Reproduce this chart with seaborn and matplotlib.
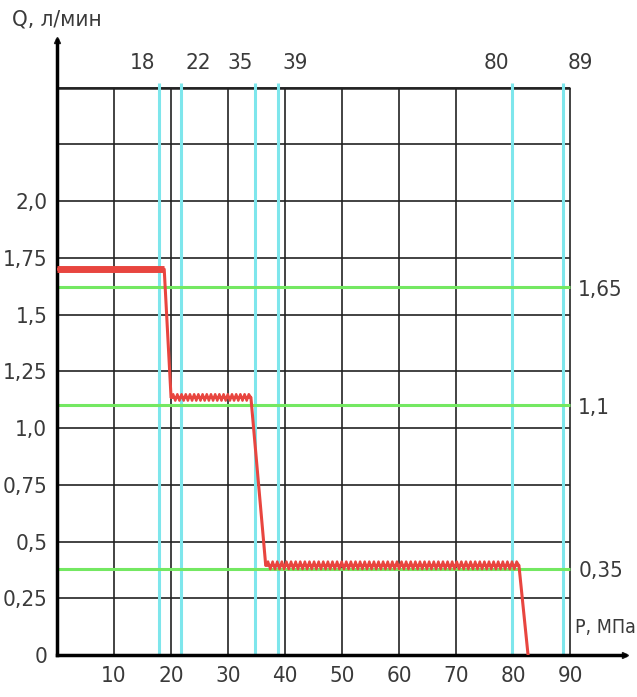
import matplotlib
matplotlib.use("Agg")
import matplotlib.pyplot as plt
import matplotlib.patheffects as pe
from matplotlib.path import Path
from matplotlib.transforms import Affine2D
import numpy as np
import seaborn as sns
import pandas as pd

# данные
p_ticks = [10, 20, 30, 40, 50, 60, 70, 80, 90]
q_ticks = [0, 0.25, 0.5, 0.75, 1.0, 1.25, 1.5, 1.75, 2.0, 2.25, 2.5]
q_labels = ["0", "0,25", "0,5", "0,75", "1,0", "1,25", "1,5", "1,75", "2,0", "", ""]

p_marks = [17.8, 21.8, 34.8, 38.8, 79.8, 88.8]
p_mark_labels = ["18", "22", "35", "39", "80", "89"]

q_marks = [1.62, 1.10, 0.38]
q_mark_labels = ["1,65", "1,1", "0,35"]

# характеристика Q(P)
curve_p = [0, 18.8, 20.0, 34.0, 36.6, 81.0, 82.6]
curve_q = [1.70, 1.70, 1.135, 1.135, 0.395, 0.395, 0.0]

RED = "#e8453f"
CYAN = "#7ee6ec"
GREEN = "#74e862"
TXT = "#3a3a3a"


class ZigZag(pe.AbstractPathEffect):
    """рисует линию пилой (стиль штриха, как пунктир)"""

    def __init__(self, period=4.5, amp=3.5):
        super().__init__()
        self.period = period
        self.amp = amp

    def draw_path(self, renderer, gc, tpath, affine, rgbFace=None):
        k = renderer.dpi / 100.0
        v = affine.transform(tpath.vertices)
        pts = [v[0]]
        for a, b in zip(v[:-1], v[1:]):
            d = b - a
            L = np.hypot(*d)
            if L == 0:
                continue
            n = max(int(L / (self.period * k / 2)), 1)
            nrm = np.array([-d[1], d[0]]) / L
            for j in range(1, n + 1):
                off = self.amp * k * (1 if j % 2 else -1) if j < n else 0
                pts.append(a + d * j / n + nrm * off)
        renderer.draw_path(gc, Path(np.array(pts)), Affine2D(), rgbFace)


sns.set_theme(style="white")
plt.rcParams["font.family"] = ["DejaVu Sans"]
plt.rcParams["font.stretch"] = "condensed"
FS = 16

fig = plt.figure(figsize=(6.37, 6.97), dpi=100)
ax = fig.add_axes([57 / 637, 42 / 697, (625 - 57) / 637, (655 - 40) / 697])
ax.set_xlim(0, 99.6)
ax.set_ylim(0, 2.71)

# сетка
ax.vlines(p_ticks, 0, 2.5, color="#222222", lw=1.2, zorder=1)
ax.hlines(q_ticks[1:], 0, 90, color="#222222", lw=1.2, zorder=1)
ax.hlines([2.5], 0, 90, color="#222222", lw=1.8, zorder=1)

# голубые и зелёные линии
ax.vlines(p_marks, 0, 2.52, color=CYAN, lw=2.2, zorder=2)
ax.hlines(q_marks, 0, 90, color=GREEN, lw=2.2, zorder=2)

for x, lab in zip(p_marks, p_mark_labels):
    if lab in ("18", "35", "80"):
        ax.text(x - 0.5, 2.565, lab, ha="right", va="bottom", fontsize=FS, color=TXT)
    else:
        ax.text(x + 0.8, 2.565, lab, ha="left", va="bottom", fontsize=FS, color=TXT)

for y, lab in zip(q_marks, q_mark_labels):
    ax.text(91.4, y - 0.01, lab, ha="left", va="center", fontsize=FS, color=TXT)

# кривая
df = pd.DataFrame({"P": curve_p, "Q": curve_q})
sns.lineplot(data=df, x="P", y="Q", sort=False, estimator=None,
             color=RED, lw=2.2, ax=ax, zorder=4)
ax.plot(curve_p[0:2], curve_q[0:2], color=RED, lw=5, solid_capstyle="butt", zorder=5)
ax.plot(curve_p[2:4], curve_q[2:4], color=RED, lw=1.8, zorder=5,
        path_effects=[ZigZag(period=4.2, amp=3.2)])
ax.plot(curve_p[4:6], curve_q[4:6], color=RED, lw=1.8, zorder=5,
        path_effects=[ZigZag(period=4.6, amp=3.8)])

# оси
for s in ("top", "right"):
    ax.spines[s].set_visible(False)
ax.spines["left"].set_linewidth(2.5)
ax.spines["bottom"].set_linewidth(2.5)
ax.spines["left"].set_color("black")
ax.spines["bottom"].set_color("black")
ax.plot(1, 0, ">k", ms=4, transform=ax.get_yaxis_transform(), clip_on=False)
ax.plot(0, 1, "^k", ms=4, transform=ax.get_xaxis_transform(), clip_on=False)

ax.set_xticks(p_ticks)
ax.set_xticklabels([str(v) for v in p_ticks])
ax.set_yticks(q_ticks)
ax.set_yticklabels(q_labels)
ax.tick_params(axis="both", direction="inout", length=6, width=2, color="black",
               labelsize=FS, labelcolor=TXT)
ax.tick_params(axis="y", pad=4)
ax.tick_params(axis="x", pad=5)

ax.set_xlabel("")
ax.set_ylabel("")
fig.text(12 / 637, 1 - 20 / 697, "Q, л/мин", ha="left", va="center", fontsize=FS, color=TXT)
ax.text(90.9, 0.08, "P, МПа", ha="left", va="bottom", fontsize=14, color=TXT)

fig.savefig("out.png", dpi=100)
